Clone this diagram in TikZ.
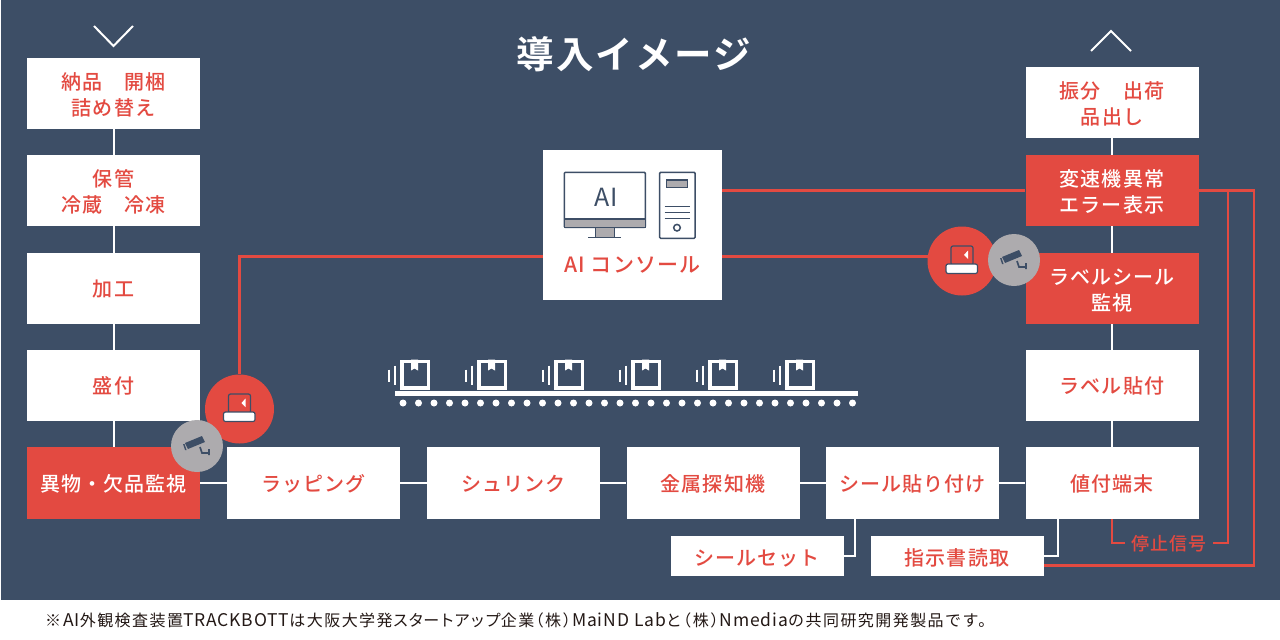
\documentclass[tikz,border=0pt]{standalone}
\usepackage{fontspec}
\setmainfont[LetterSpace=5.5]{Noto Sans CJK JP Medium}
\newfontfamily\titlefont[LetterSpace=5.5]{Noto Sans CJK JP Bold}
\newfontfamily\notefont[LetterSpace=9]{Noto Sans CJK JP}
\newfontfamily\notewide[LetterSpace=5]{Noto Sans CJK JP}
\newfontfamily\notekana[LetterSpace=-4]{Noto Sans CJK JP}
\usetikzlibrary{positioning}
\definecolor{navy}{HTML}{3D4E66}
\definecolor{signal}{HTML}{E34A41}
\definecolor{ash}{HTML}{ADABAE}
\definecolor{ink}{HTML}{231815}
\newcommand{\kabu}{\hspace{-6.5pt}（株）\hspace{-6.5pt}}
\newcommand{\latin}[1]{{\fontsize{17.5}{20}\selectfont\notewide #1}}
\tikzset{
  pics/alarmicon/.style={code={
    \draw[navy,fill=signal,line width=1.2pt,rounded corners=2pt] (-11,4) rectangle (11,-15);
    \fill[white] (2,-6) -- (6,-10.5) -- (6,-2) -- cycle;
    \draw[navy,fill=white,line width=1.2pt,rounded corners=2pt] (-16,3) rectangle (15.5,12.5);
  }},
  pics/camicon/.style={code={
    \fill[navy] (-12,-3) -- (5,-10) -- (8,-4) -- (-9,3) -- cycle;
    \fill[navy] (-14,-2) -- (-12.5,-2) -- (-10.5,4) -- (-12,4) -- cycle;
    \draw[navy,line width=1.7pt] (3,1) -- (5,7) -- (12,7) (12,3) -- (12,9);
  }},
  pics/parcel/.style={code={
    \draw[white,line width=3.5pt] (1.75,1.75) rectangle (28.25,28.25);
    \fill[white] (11,0) -- (18,0) -- (18,11) -- (14.5,9) -- (11,11) -- cycle;
    \draw[white,line width=2pt] (-11.5,10) -- (-11.5,22) (-5.5,6) -- (-5.5,25);
  }}
}
\begin{document}
\begin{tikzpicture}[x=1pt,y=-1pt]
\tikzstyle{stage}=[rectangle,fill=white,text=signal,minimum width=173pt,minimum height=71.5pt,inner sep=0pt,align=center,text height=18pt,font=\fontsize{20}{25.5}\selectfont]
\tikzstyle{stacked}=[text height=45pt]
\tikzstyle{alert}=[stage,fill=signal,text=white]
\tikzstyle{slip}=[stage,minimum height=40pt,text height=20.5pt]
\tikzstyle{flow}=[draw=white,line width=2pt]
\tikzstyle{arc}=[draw=signal,line width=2.6pt]
\tikzstyle{alarm}=[circle,fill=signal,minimum size=69pt,inner sep=0pt]
\tikzstyle{cam}=[circle,fill=ash,minimum size=52pt,inner sep=0pt]
\tikzstyle{gear}=[draw=navy,line width=1.5pt]
\useasboundingbox (0,0) rectangle (1280,640);
\fill[navy] (1,0) rectangle (1280,600);
%% title and direction marks %%
\node[text=white,font=\fontsize{37.5}{40}\selectfont\titlefont] at (634,54) (title) {導入イメージ};
\draw[white,line width=2pt] (94,26) -- (113.5,46) -- (133,26);
\draw[white,line width=2pt] (1091,51) -- (1111,31) -- (1131,51);
%% left column %%
\node[stage,stacked] at (113.5,93.5) (nohin) {納品　開梱\\詰め替え};
\node[stage,stacked] at (113.5,190.5) (hokan) {保管\\冷蔵　冷凍};
\node[stage] at (113.5,288.5) (kako) {加工};
\node[stage] at (113.5,385.5) (moritsuke) {盛付};
\node[alert] at (113.5,483) (ibutsu) {異物・欠品監視};
%% bottom row %%
\node[stage] at (313.5,483) (wrap) {ラッピング};
\node[stage] at (513.5,483) (shrink) {シュリンク};
\node[stage] at (713,483) (metal) {金属探知機};
\node[stage] at (912.5,483) (seal) {シール貼り付け};
\node[stage] at (1112,483) (neduke) {値付端末};
\node[slip] at (757,556) (sealset) {シールセット};
\node[slip] at (957,556) (reader) {指示書読取};
%% right column %%
\node[stage] at (1112,385.5) (labeling) {ラベル貼付};
\node[alert,stacked] at (1112,288.5) (labelwatch) {ラベルシール\\監視};
\node[alert,stacked] at (1112,190.5) (shift) {変速機異常\\エラー表示};
\node[stage,stacked] at (1112,102.5) (shipping) {振分　出荷\\品出し};
%% console %%
\node[rectangle,fill=white,minimum width=179pt,minimum height=150pt,inner sep=0pt] at (632.5,225) (console) {};
\node[text=signal,font=\fontsize{21}{24}\selectfont] at (632.5,264.5) (consolelabel) {AI コンソール};
\draw[gear,fill=white,rounded corners=1pt] (564.3,172.3) rectangle (645.3,227.3);
\draw[gear,fill=ash] (564.3,219) rectangle (645.3,227.3);
\draw[gear,fill=ash] (595.3,227.3) rectangle (614.3,237.3);
\draw[gear] (588.3,237.3) -- (621,237.3);
\node[text=navy,font=\fontsize{25}{28}\selectfont\notewide] at (606,197) (screen) {AI};
\draw[gear,rounded corners=1pt] (659.7,172.3) rectangle (695,238.3);
\draw[gear,fill=ash] (666.7,180) rectangle (687.7,187.7);
\foreach \y in {206.7,212.7,218.7}
  \draw[gear] (664.7,\y) -- (690,\y);
\draw[gear] (677,227.7) circle (3.3);
%% conveyor %%
\fill[white] (395,391) rectangle (858,396);
\foreach \i in {0,...,29}
  \fill[white] ({403+15.5*\i},403) circle (3.5);
\foreach \i in {0,...,5}
  \pic at ({400+77*\i},359.5) {parcel};
%% monitors %%
\node[alarm] at (239.5,409) (alarmL) {};
\node[alarm] at (962,261) (alarmR) {};
\coordinate (railA) at (1254,565.5);
\coordinate (railB) at (1228,543);
\node[text=signal,inner xsep=6pt,inner ysep=0pt,text height=16.5pt,font=\fontsize{18}{20}\selectfont] at (1169,543) (stop) {停止信号};
%% white flow %%
\draw[flow] (nohin) -- (hokan);
\draw[flow] (hokan) -- (kako);
\draw[flow] (kako) -- (moritsuke);
\draw[flow] (moritsuke) -- (ibutsu);
\draw[flow] (ibutsu) -- (wrap);
\draw[flow] (wrap) -- (shrink);
\draw[flow] (shrink) -- (metal);
\draw[flow] (metal) -- (seal);
\draw[flow] (seal) -- (neduke);
\draw[flow] (neduke) -- (labeling);
\draw[flow] (labeling) -- (labelwatch);
\draw[flow] (labelwatch) -- (shift);
\draw[flow] (shift) -- (shipping);
\draw[flow] ([xshift=-57.5pt]seal.south) |- (sealset.east);
\draw[flow] ([xshift=-54pt]neduke.south) |- (reader.east);
%% red signal lines %%
\draw[arc] (console.east |- shift.west) -- (shift.west);
\draw[arc] (console.east |- alarmR.173) -- (alarmR.173);
\draw[arc] (console.west |- alarmR.173) -| (alarmL.north);
\draw[arc] (shift.east) -| (railA) -- (reader.east |- railA);
\draw[arc] (shift.east) -| (railB) -- (stop.east);
\draw[arc] (stop.west) -| (neduke.south);
%% icons %%
\pic at (alarmL) {alarmicon};
\pic at (alarmR) {alarmicon};
\node[cam] at (197,446) (camL) {};
\node[cam] at (1014,260) (camR) {};
\pic at (camL) {camicon};
\pic at (camR) {camicon};
%% note %%
\node[anchor=west,inner sep=0pt,text=ink,font=\fontsize{16}{20}\selectfont\notefont] at (45,620) (note) {※\hspace{2pt}\latin{AI}外観検査装置\latin{TRACKBOTT}は大阪大学発{\notekana スタートアップ}企業\kabu\latin{MaiND Lab}と\kabu\latin{Nmedia}の共同研究開発製品です。};
\end{tikzpicture}
\end{document}
